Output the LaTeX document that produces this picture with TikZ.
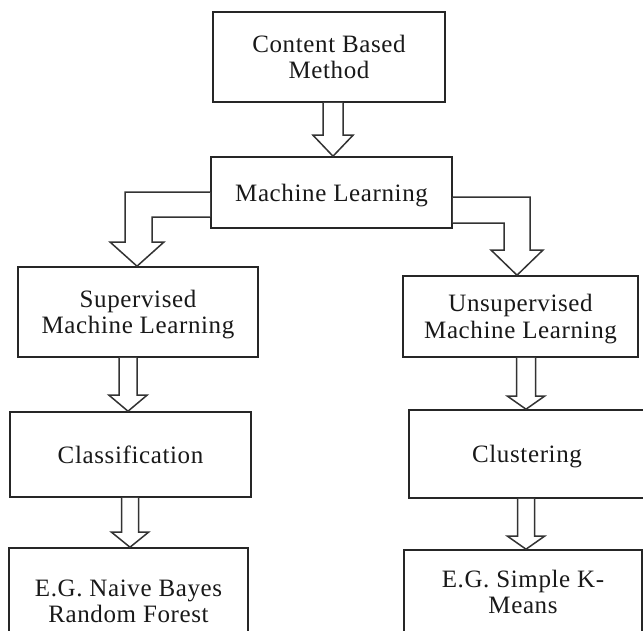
\documentclass[tikz,border=0pt]{standalone}
\usepackage{fontspec}
\setmainfont[LetterSpace=2.5]{Liberation Serif}
\usetikzlibrary{calc}
\tikzset{
  box/.style={draw=black!85, line width=1.6pt, rectangle, inner sep=0pt, align=center,
     font=\fontsize{25}{26.5}\selectfont, text=black!90, text depth=0pt},
  fat/.style={draw=black!80, line width=1.5pt, line join=miter, fill=white}
}
\newcommand{\fatdown}[6]{%
  \path (#3,0 |- #1.south) coordinate (fs) (#3,0 |- #2.north) coordinate (fe);
  \draw[fat] ($(fs)+(-#4,0)$) -- ($(fe)+(-#4,-#6)$) -- ($(fe)+(-#5,-#6)$) -- (fe)
     -- ($(fe)+(#5,-#6)$) -- ($(fe)+(#4,-#6)$) -- ($(fs)+(#4,0)$);
}
\begin{document}
\begin{tikzpicture}[x=1pt,y=-1pt]
\useasboundingbox[fill=white] (0,0) rectangle (643,630);
\clip (0,0) rectangle (643,630);
\node[box, minimum width=232pt, minimum height=90pt] (cbm) at (329,57) {Content Based\\Method};
\node[box, minimum width=241pt, minimum height=71pt] (ml) at (331.5,192.5) {Machine Learning};
\node[box, minimum width=240pt, minimum height=90pt] (sup) at (138,312) {Supervised\\Machine Learning};
\node[box, minimum width=235pt, minimum height=81pt] (uns) at (520.5,316.5) {Unsupervised\\Machine Learning};
\node[box, minimum width=241pt, minimum height=85pt] (cls) at (130.5,454.5) {Classification};
\node[box, minimum width=236pt, minimum height=88pt] (clu) at (527,454) {Clustering};
\node[box, minimum width=239pt, minimum height=106pt] (nb) at (128.5,601) {E.G. Naive Bayes\\Random Forest};
\node[box, minimum width=238pt, minimum height=84pt] (km) at (523,592) {E.G. Simple K-\\Means};
% straight fat arrows
\fatdown{cbm}{ml}{333}{10}{20}{21}
\fatdown{sup}{cls}{128}{9}{19}{16}
\fatdown{cls}{nb}{130}{8.5}{18.5}{15}
\fatdown{uns}{clu}{526}{9.5}{18.5}{13}
\fatdown{clu}{km}{526}{8.5}{18.5}{13}
% bent fat arrows
\draw[fat] (ml.west |- 0,192) -- (125,192) -- (125,242) -- (110,242) -- (137,0 |- sup.north)
   -- (164,242) -- (152,242) -- (152,217) -- (ml.west |- 0,217);
\draw[fat] (ml.east |- 0,197) -- (530,197) -- (530,250) -- (543,250) -- (517,0 |- uns.north)
   -- (491,250) -- (504,250) -- (504,223) -- (ml.east |- 0,223);
\end{tikzpicture}
\end{document}
